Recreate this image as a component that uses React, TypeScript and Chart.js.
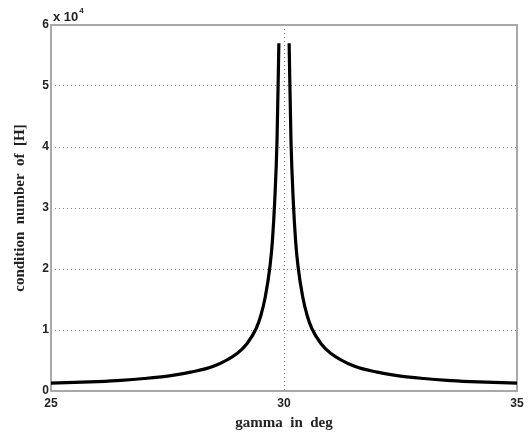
import React, { useEffect, useRef } from "react";
import { Chart, registerables } from "chart.js";

Chart.register(...registerables);

const gammaLeft = [25, 25.5, 26, 26.5, 27, 27.5, 28, 28.5, 29, 29.2, 29.4, 29.5, 29.6, 29.7, 29.75, 29.8, 29.85, 29.89];
const condLeft = [1300, 1400, 1550, 1750, 2050, 2450, 3100, 4100, 6200, 7700, 10200, 12300, 15500, 20500, 24500, 31000, 41000, 57000];
const gammaRight = [30.11, 30.15, 30.2, 30.25, 30.3, 30.4, 30.5, 30.6, 30.8, 31, 31.5, 32, 32.5, 33, 33.5, 34, 34.5, 35];
const condRight = [57000, 41000, 31000, 24500, 20500, 15500, 12300, 10200, 7700, 6200, 4100, 3100, 2450, 2050, 1750, 1550, 1400, 1300];
const xTicks = [25, 30, 35];
const yTickLabels = ["0", "1", "2", "3", "4", "5", "6"];
const yScaleFactor = 10000;

export default function App() {
  const ref = useRef<HTMLCanvasElement | null>(null);
  useEffect(() => {
    document.body.style.margin = "0";
    const canvas = ref.current!;
    const points: { x: number; y: number | null }[] = [];
    gammaLeft.forEach((g, i) => points.push({ x: g, y: condLeft[i] }));
    points.push({ x: 30, y: null });
    gammaRight.forEach((g, i) => points.push({ x: g, y: condRight[i] }));

    const boxPlugin = {
      id: "box",
      beforeDatasetsDraw(chart: any) {
        const { ctx, chartArea: a } = chart;
        ctx.save();
        ctx.strokeStyle = "#a8a8a8";
        ctx.lineWidth = 2;
        ctx.strokeRect(a.left, a.top, a.right - a.left, a.bottom - a.top);
        ctx.restore();
      },
      afterDraw(chart: any) {
        const { ctx, chartArea: a } = chart;
        ctx.save();
        ctx.fillStyle = "#222";
        ctx.font = "bold 13px 'Liberation Sans', Arial, sans-serif";
        ctx.textBaseline = "alphabetic";
        ctx.textAlign = "left";
        ctx.fillText("x 10", a.left + 2, a.top - 4);
        const w = ctx.measureText("x 10").width;
        ctx.font = "bold 8px 'Liberation Sans', Arial, sans-serif";
        ctx.fillText("4", a.left + 3 + w, a.top - 12);
        ctx.restore();
      },
    };

    const chart = new Chart(canvas, {
      type: "line",
      data: {
        datasets: [
          {
            data: points as any,
            borderColor: "#000",
            borderWidth: 3.2,
            pointRadius: 0,
            cubicInterpolationMode: "monotone",
            spanGaps: false,
            fill: false,
          },
        ],
      },
      options: {
        animation: false,
        responsive: false,
        maintainAspectRatio: false,
        layout: { padding: { left: 0, right: 15, top: 25, bottom: 0 } },
        plugins: { legend: { display: false }, tooltip: { enabled: false } },
        scales: {
          x: {
            type: "linear",
            min: 25,
            max: 35,
            afterBuildTicks(scale: any) {
              scale.ticks = xTicks.map((v) => ({ value: v }));
            },
            afterFit(scale: any) {
              scale.height = 46;
            },
            border: { display: false, dash: [1, 3] },
            grid: {
              color: (c: any) => (c.tick && (c.tick.value === 25 || c.tick.value === 35) ? "rgba(0,0,0,0)" : "#8a8a8a"),
              lineWidth: 1,
              tickLength: 0,
            },
            ticks: {
              color: "#222",
              padding: 5,
              maxRotation: 0,
              font: { family: "'Liberation Sans', Arial, sans-serif", weight: "bold", size: 12 },
            },
            title: {
              display: true,
              text: "gamma  in  deg",
              color: "#222",
              padding: { top: 0, bottom: 5 },
              font: { family: "'Liberation Serif', 'Times New Roman', serif", weight: "bold", size: 15 },
            },
          },
          y: {
            type: "linear",
            min: 0,
            max: 60000,
            ticks: {
              stepSize: 10000,
              color: "#222",
              padding: 2,
              callback: (v: any) => yTickLabels[Math.round(Number(v) / yScaleFactor)] ?? "",
              font: { family: "'Liberation Sans', Arial, sans-serif", weight: "bold", size: 12 },
            },
            afterFit(scale: any) {
              scale.width = 51;
            },
            border: { display: false, dash: [1, 3] },
            grid: {
              color: (c: any) => (c.tick && (c.tick.value === 0 || c.tick.value === 60000) ? "rgba(0,0,0,0)" : "#8a8a8a"),
              lineWidth: 1,
              tickLength: 0,
            },
            title: {
              display: true,
              text: "condition  number  of  [H]",
              color: "#222",
              padding: { top: 11, bottom: 0 },
              font: { family: "'Liberation Serif', 'Times New Roman', serif", weight: "bold", size: 15 },
            },
          },
        },
      },
      plugins: [boxPlugin],
    });
    return () => chart.destroy();
  }, []);

  return (
    <div style={{ position: "absolute", left: 0, top: 0, width: 532, height: 437, background: "#fff" }}>
      <canvas ref={ref} width={532} height={437} />
    </div>
  );
}
